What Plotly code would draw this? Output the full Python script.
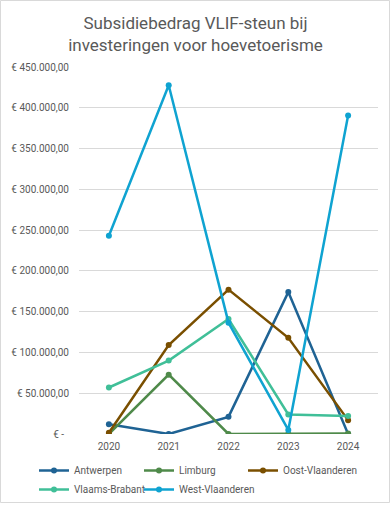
import plotly.graph_objects as go

years = ["2020", "2021", "2022", "2023", "2024"]
antwerpen = [12000, 0, 21000, 174000, 0]
limburg = [0, 72800, 0, 0, 500]
oost_vlaanderen = [1600, 109000, 177000, 118000, 17000]
vlaams_brabant = [57000, 90000, 141000, 24000, 22000]
west_vlaanderen = [243000, 427700, 136500, 5000, 390500]

series_names = ["Antwerpen", "Limburg", "Oost-Vlaanderen", "Vlaams-Brabant", "West-Vlaanderen"]
series_values = [antwerpen, limburg, oost_vlaanderen, vlaams_brabant, west_vlaanderen]
colors = ["#1f6394", "#4f8a4a", "#7a4f00", "#40bf98", "#0fa3d1"]
legend_groups = ["legend", "legend2", "legend3", "legend", "legend2"]

tick_vals = [0, 50000, 100000, 150000, 200000, 250000, 300000, 350000, 400000, 450000]
tick_text = ["€ -\u00a0\u00a0", "€ 50.000,00", "€ 100.000,00", "€ 150.000,00", "€ 200.000,00",
             "€ 250.000,00", "€ 300.000,00", "€ 350.000,00", "€ 400.000,00", "€ 450.000,00"]

FONT = "Roboto"
GRAY = "#595959"

fig = go.Figure()
for name, vals, col, lg in zip(series_names, series_values, colors, legend_groups):
    fig.add_trace(go.Scatter(
        x=years, y=vals, name=name, mode="lines+markers",
        line=dict(color=col, width=2.5),
        marker=dict(color=col, size=6),
        legend=lg,
    ))

W, H = 391, 505
ml, mr, mt, mb = 79, 13, 67, 71
pw, ph = W - ml - mr, H - mt - mb


def leg(px_x, px_top):
    return dict(
        orientation="v", x=(px_x - ml) / pw, xanchor="left",
        y=-(px_top - (H - mb)) / ph, yanchor="top",
        font=dict(size=10, color=GRAY, family=FONT),
        bgcolor="rgba(0,0,0,0)", traceorder="normal", tracegroupgap=0,
    )


LEG_TOP = 456
fig.update_layout(
    width=W, height=H,
    margin=dict(l=ml, r=mr, t=mt, b=mb, autoexpand=False),
    paper_bgcolor="white", plot_bgcolor="white",
    font=dict(family=FONT, size=10, color=GRAY),
    title=dict(
        text="Subsidiebedrag VLIF-steun bij<br>investeringen voor hoevetoerisme",
        x=0.5, xref="container", xanchor="center",
        y=1 - 28.5 / H, yref="container", yanchor="middle",
        font=dict(family=FONT, size=17, color=GRAY),
    ),
    xaxis=dict(
        type="category", range=[-0.5, 4.5],
        showgrid=False, showline=False, zeroline=False,
        ticks="outside", ticklen=3, tickcolor="rgba(0,0,0,0)",
        tickfont=dict(size=10, color=GRAY),
    ),
    yaxis=dict(
        range=[0, 450000], tickvals=tick_vals, ticktext=tick_text,
        showgrid=True, gridcolor="#d9d9d9", gridwidth=1,
        zeroline=False, showline=False,
        ticks="outside", ticklen=7, tickcolor="rgba(0,0,0,0)",
        tickfont=dict(size=10, color=GRAY),
    ),
    legend=leg(34, LEG_TOP),
    legend2=leg(139, LEG_TOP),
    legend3=leg(243, LEG_TOP),
    showlegend=True,
    shapes=[dict(type="rect", xref="paper", yref="paper",
                 x0=-(ml - 0.5) / pw,
                 x1=1 + (mr - 1.5) / pw,
                 y0=-(mb - 2.5) / ph,
                 y1=1 + (mt - 0.5) / ph,
                 line=dict(color="#d9d9d9", width=1), layer="below")],
)

fig.write_html("out.html", config={"displayModeBar": False},
               post_script="document.body.style.margin='0';document.body.style.padding='0';")
